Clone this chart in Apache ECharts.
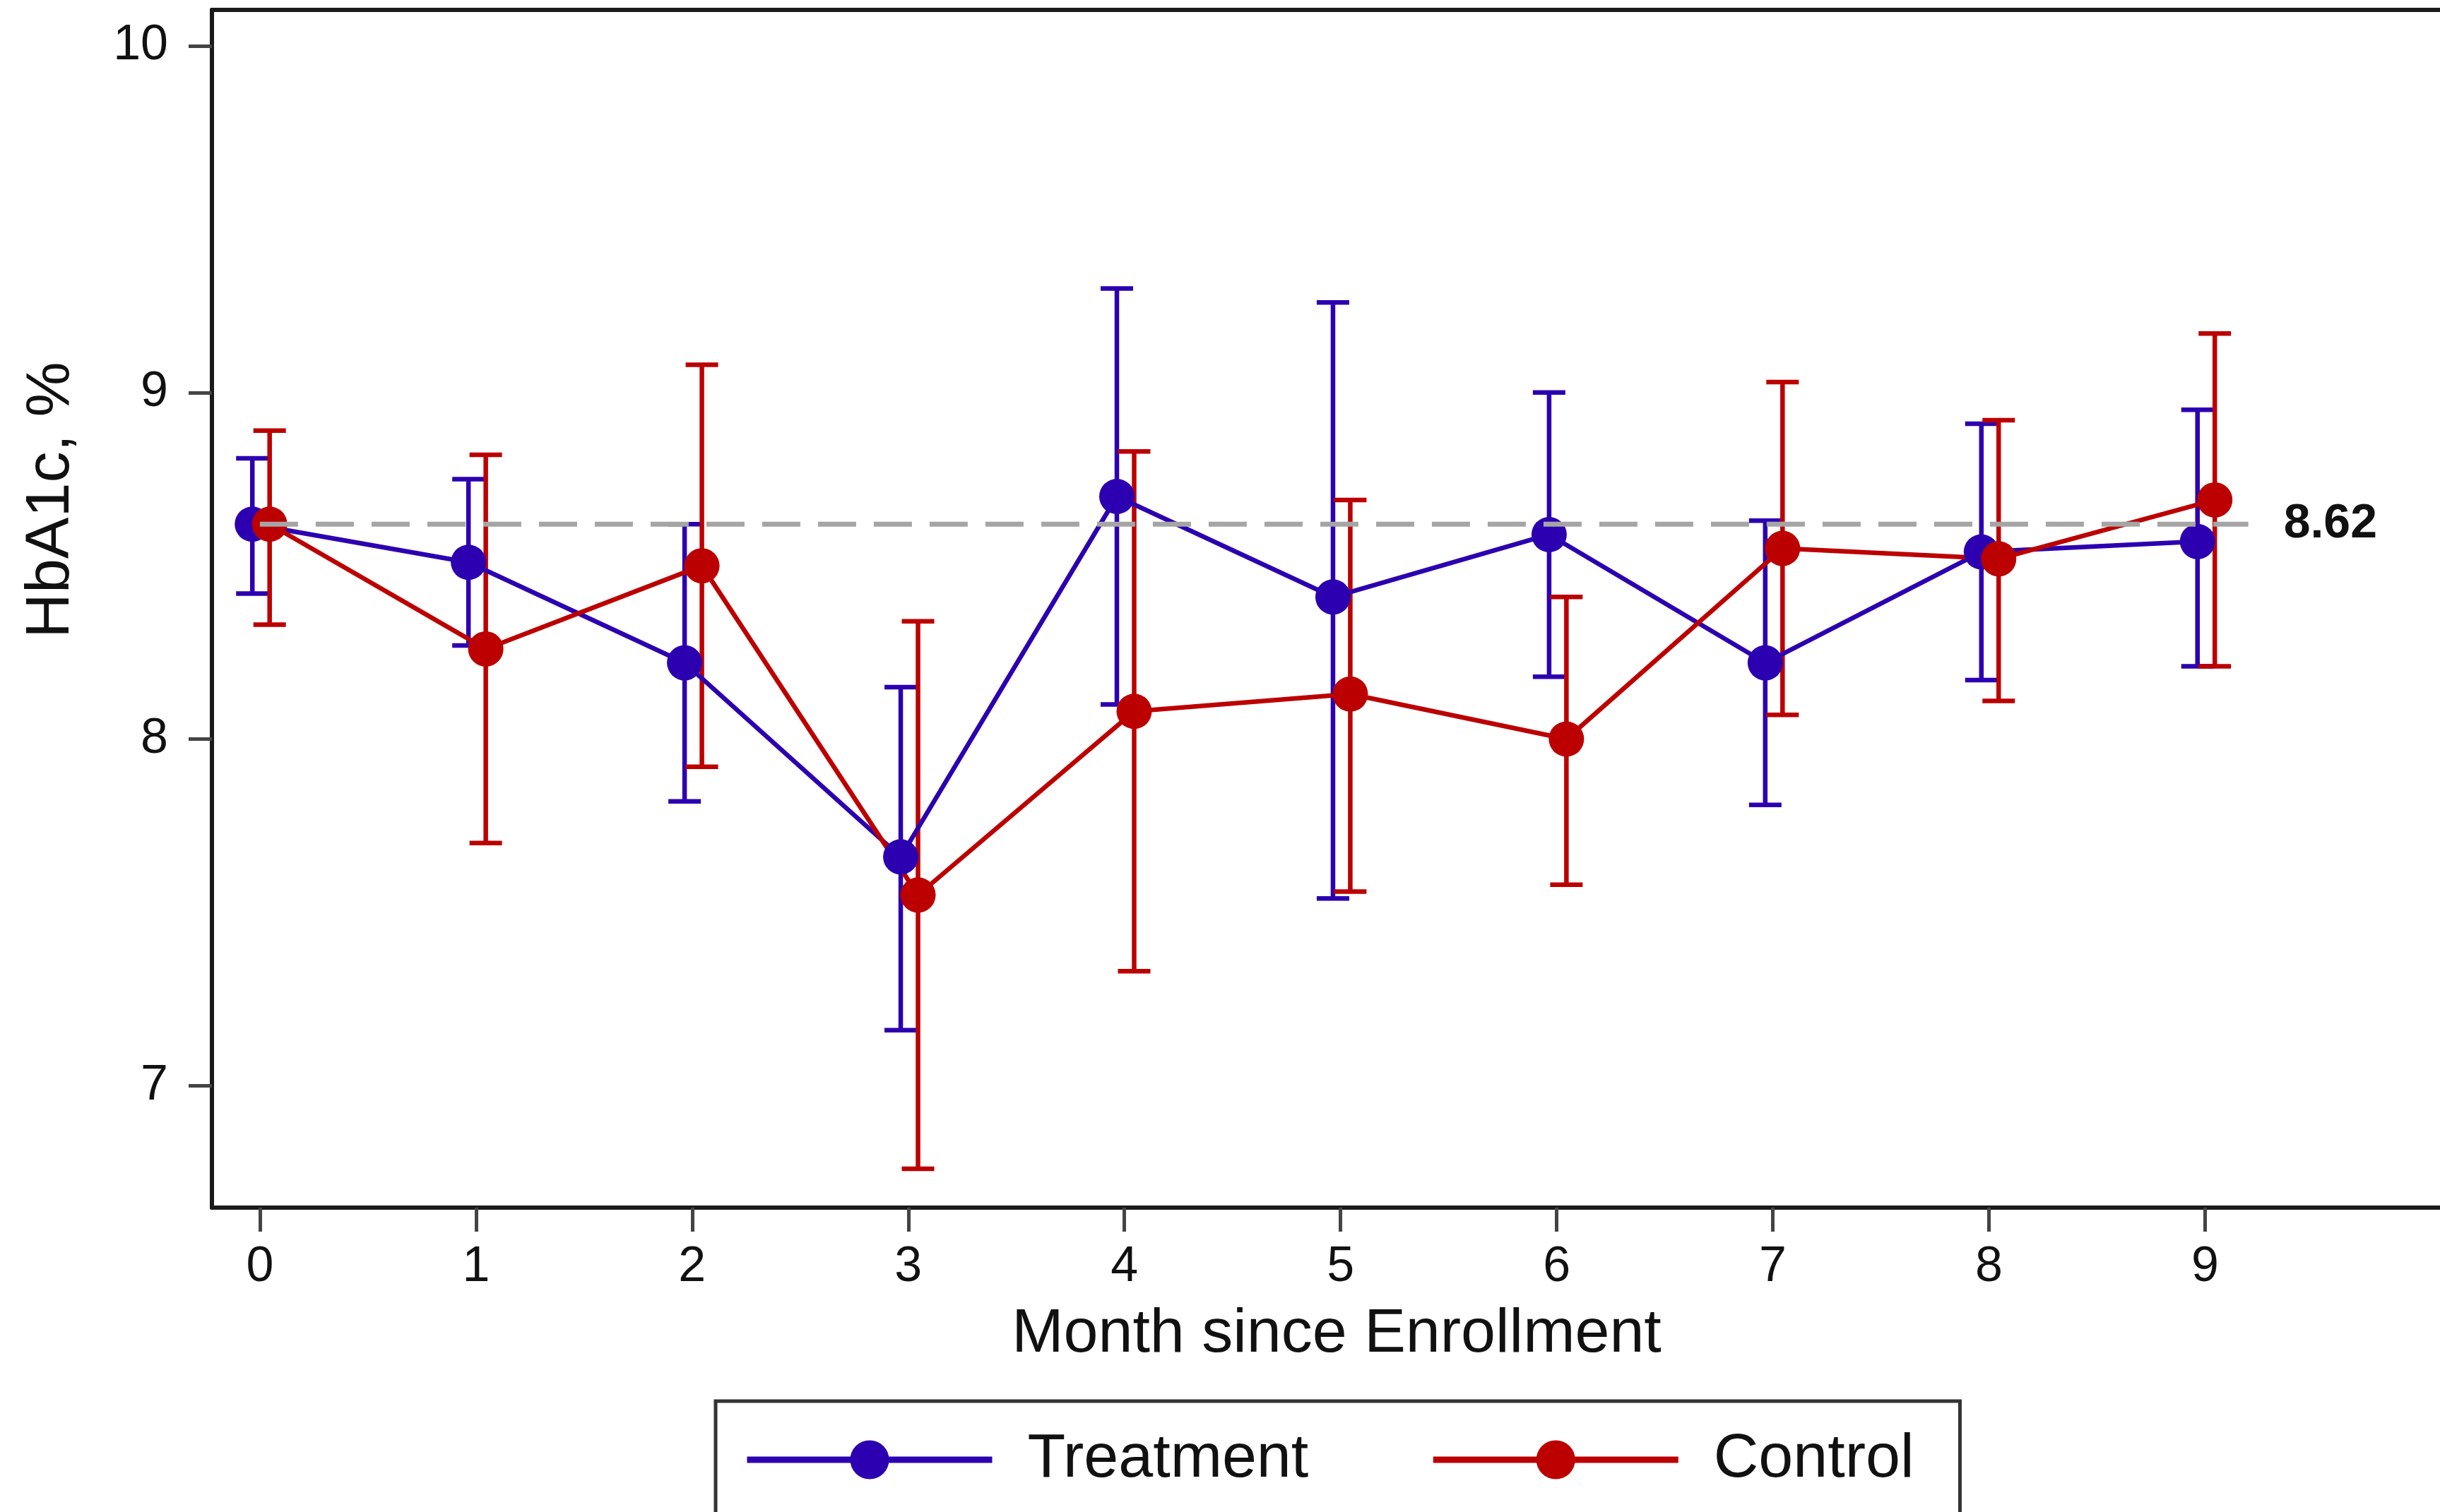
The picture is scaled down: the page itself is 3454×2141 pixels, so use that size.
<!DOCTYPE html>
<html>
<head>
<meta charset="utf-8">
<title>HbA1c by month</title>
<script src="https://cdn.jsdelivr.net/npm/echarts@6.0.0/dist/echarts.min.js"></script>
<style>
  html, body { margin: 0; padding: 0; background: #fff; }
  #chart { width: 3454px; height: 2141px; }
</style>
</head>
<body>
<div id="chart"></div>
<script>
// data
const months = [0, 1, 2, 3, 4, 5, 6, 7, 8, 9];
const treatMean = [8.62, 8.51, 8.22, 7.66, 8.70, 8.41, 8.59, 8.22, 8.54, 8.57];
const treatLow  = [8.42, 8.27, 7.82, 7.16, 8.10, 7.54, 8.18, 7.81, 8.17, 8.21];
const treatHigh = [8.81, 8.75, 8.62, 8.15, 9.30, 9.26, 9.00, 8.63, 8.91, 8.95];
const ctrlMean  = [8.62, 8.26, 8.50, 7.55, 8.08, 8.13, 8.00, 8.55, 8.52, 8.69];
const ctrlLow   = [8.33, 7.70, 7.92, 6.76, 7.33, 7.56, 7.58, 8.07, 8.11, 8.21];
const ctrlHigh  = [8.89, 8.82, 9.08, 8.34, 8.83, 8.69, 8.41, 9.03, 8.92, 9.17];
const baseline = 8.62;
const baselineSpan = [0, 9.2];
const xTicks = [0, 1, 2, 3, 4, 5, 6, 7, 8, 9];
const yTicks = [7, 8, 9, 10];

const FONT = '"Liberation Sans", Arial, Helvetica, sans-serif';
const BLUE = '#2C00B0';
const RED = '#BC0000';
const AXIS = '#1a1a1a';
// small horizontal dodge so the two groups don't overlap
const treatShift = -0.035;
const ctrlShift = 0.045;
// the original is cropped on the right, so the x range runs to the page edge
const xMin = -0.222;
const xMax = 10.087;

const treatPts = months.map((m, i) => [m + treatShift, treatMean[i]]);
const ctrlPts = months.map((m, i) => [m + ctrlShift, ctrlMean[i]]);
const treatBars = months.map((m, i) => [m + treatShift, treatLow[i], treatHigh[i]]);
const ctrlBars = months.map((m, i) => [m + ctrlShift, ctrlLow[i], ctrlHigh[i]]);

function errorBar(color) {
  return function (params, api) {
    const x = api.value(0);
    const lo = api.coord([x, api.value(1)]);
    const hi = api.coord([x, api.value(2)]);
    const half = 23;
    const style = { stroke: color, lineWidth: 6.5 };
    return {
      type: 'group',
      children: [
        { type: 'line', shape: { x1: lo[0], y1: lo[1], x2: hi[0], y2: hi[1] }, style },
        { type: 'line', shape: { x1: hi[0] - half, y1: hi[1], x2: hi[0] + half, y2: hi[1] }, style },
        { type: 'line', shape: { x1: lo[0] - half, y1: lo[1], x2: lo[0] + half, y2: lo[1] }, style }
      ]
    };
  };
}

const myChart = echarts.init(document.getElementById('chart'), null, { renderer: 'canvas' });

myChart.setOption({
  animation: false,
  backgroundColor: '#fff',
  grid: {
    left: 300,
    top: 14,
    right: 0,
    bottom: 431
  },
  graphic: [{
    type: 'text',
    x: 73,
    y: 708,
    rotation: Math.PI / 2,
    style: {
      text: 'HbA1c, %',
      fontSize: 88,
      fontFamily: FONT,
      fill: '#111',
      align: 'center',
      verticalAlign: 'middle'
    }
  }],
  legend: {
    data: ['Treatment', 'Control'],
    left: 1013,
    top: 1984,
    orient: 'horizontal',
    itemWidth: 347,
    itemHeight: 69,
    itemGap: 172,
    padding: [39, 65, 120, 40],
    borderColor: '#333',
    borderWidth: 5,
    backgroundColor: '#fff',
    lineStyle: { width: 9 },
    textStyle: {
      fontSize: 88,
      fontFamily: FONT,
      color: '#111',
      padding: [0, 0, 0, 45]
    }
  },
  xAxis: [
    {
      type: 'value',
      min: xMin,
      max: xMax,
      name: 'Month since Enrollment',
      nameLocation: 'middle',
      nameGap: 136,
      nameTextStyle: { fontSize: 88, fontFamily: FONT, color: '#111', padding: [0, 0, 0, 30] },
      axisLine: { show: true, onZero: false, lineStyle: { color: AXIS, width: 6 } },
      axisTick: { show: true, length: 34, customValues: xTicks, lineStyle: { color: '#444', width: 5 } },
      axisLabel: { customValues: xTicks, margin: 50, fontSize: 70, fontFamily: FONT, color: '#111' },
      splitLine: { show: false }
    },
    {
      // top frame line only
      type: 'value',
      position: 'top',
      min: xMin,
      max: xMax,
      axisLine: { show: true, onZero: false, lineStyle: { color: AXIS, width: 6 } },
      axisTick: { show: false },
      axisLabel: { show: false },
      splitLine: { show: false }
    }
  ],
  yAxis: {
    type: 'value',
    min: 6.648,
    max: 10.104,
    axisLine: { show: true, onZero: false, lineStyle: { color: AXIS, width: 6 } },
    axisTick: { show: true, length: 33, customValues: yTicks, lineStyle: { color: '#444', width: 5 } },
    axisLabel: { customValues: yTicks, margin: 62, fontSize: 70, fontFamily: FONT, color: '#111' },
    splitLine: { show: false }
  },
  series: [
    {
      name: 'Treatment bars',
      type: 'custom',
      renderItem: errorBar(BLUE),
      encode: { x: 0, y: [1, 2] },
      data: treatBars,
      silent: true
    },
    {
      name: 'Treatment',
      type: 'line',
      data: treatPts,
      symbol: 'circle',
      symbolSize: 50,
      color: BLUE,
      itemStyle: { color: BLUE },
      lineStyle: { color: BLUE, width: 6.5 }
    },
    {
      name: 'Control bars',
      type: 'custom',
      renderItem: errorBar(RED),
      encode: { x: 0, y: [1, 2] },
      data: ctrlBars,
      silent: true
    },
    {
      name: 'Control',
      type: 'line',
      data: ctrlPts,
      symbol: 'circle',
      symbolSize: 50,
      color: RED,
      itemStyle: { color: RED },
      lineStyle: { color: RED, width: 6.5 }
    },
    {
      name: 'Baseline',
      type: 'line',
      data: baselineSpan.map(x => [x, baseline]),
      symbol: 'none',
      silent: true,
      z: 5,
      lineStyle: { color: '#A5A5A5', width: 7, type: [54, 25] },
      endLabel: {
        show: true,
        formatter: String(baseline),
        distance: 50,
        fontSize: 68,
        fontWeight: 'bold',
        fontFamily: FONT,
        color: '#111'
      }
    }
  ]
});
</script>
</body>
</html>
